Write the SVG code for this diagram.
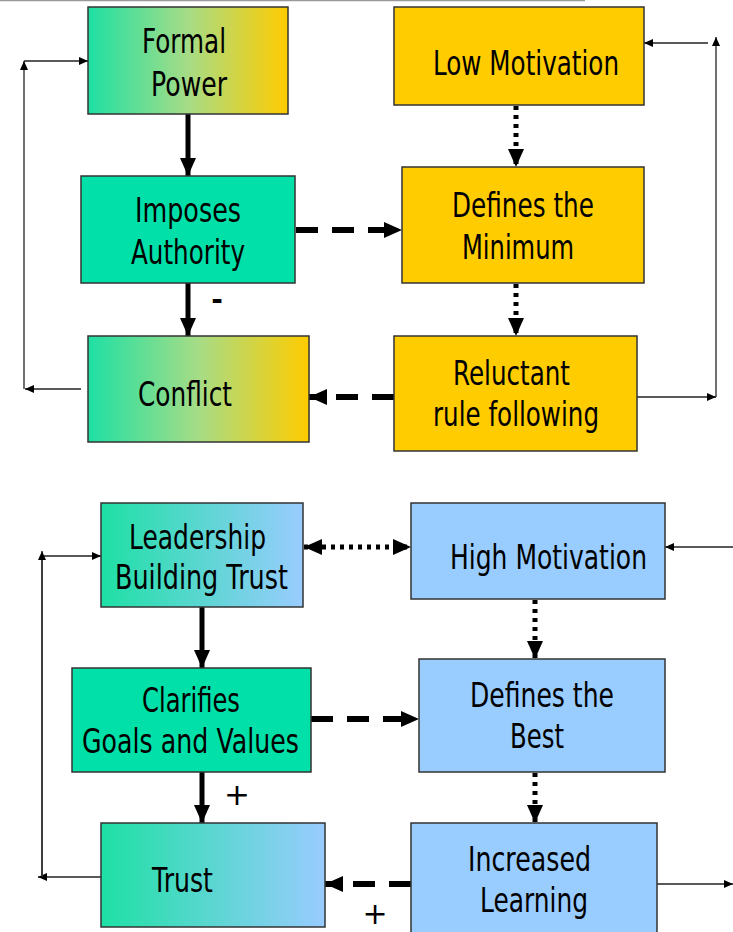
<svg xmlns="http://www.w3.org/2000/svg" width="733" height="932" viewBox="0 0 733 932">
  <defs>
    <linearGradient id="gy" x1="0" y1="0" x2="1" y2="0">
      <stop offset="0" stop-color="#1ee0a4"/>
      <stop offset="0.5" stop-color="#a6dc86"/>
      <stop offset="1" stop-color="#ffcc00"/>
    </linearGradient>
    <linearGradient id="gb" x1="0" y1="0" x2="1" y2="0">
      <stop offset="0" stop-color="#1ee0a4"/>
      <stop offset="1" stop-color="#99ccff"/>
    </linearGradient>
    <marker id="big" markerUnits="userSpaceOnUse" markerWidth="20" markerHeight="18" refX="18" refY="8" orient="auto">
      <path d="M0,0 L18,8 L0,16 Z" fill="#000"/>
    </marker>
    <marker id="bigs" markerUnits="userSpaceOnUse" markerWidth="20" markerHeight="18" refX="18" refY="8" orient="auto-start-reverse">
      <path d="M0,0 L18,8 L0,16 Z" fill="#000"/>
    </marker>
    <marker id="small" markerUnits="userSpaceOnUse" markerWidth="10" markerHeight="10" refX="9" refY="4" orient="auto">
      <path d="M0,0 L9,4 L0,8 Z" fill="#000"/>
    </marker>
  </defs>
  <style>
    .box { stroke: #333; stroke-width: 1.5; }
    .green { fill: #00e0a8; }
    .yellow { fill: #ffcc00; }
    .blue { fill: #99ccff; }
    .lbl { font-family: "DejaVu Sans", Verdana, sans-serif; font-size: 34px; fill: #000; }
    .sign { font-family: "DejaVu Sans", Verdana, sans-serif; fill: #000; }
    .solid { stroke: #000; stroke-width: 5; fill: none; }
    .dash { stroke: #000; stroke-width: 6; fill: none; stroke-dasharray: 22 14; }
    .dot { stroke: #000; stroke-width: 5; fill: none; stroke-dasharray: 4 5; }
    .thin { stroke: #222; stroke-width: 1.3; fill: none; }
  </style>

  <rect width="733" height="932" fill="#fff"/>
  <line x1="0" y1="0.5" x2="585" y2="0.5" stroke="#999" stroke-width="1.5"/>

  <!-- connectors -->
  <g id="connectors">
    <!-- upper loop -->
    <path class="solid" d="M188,114 V176" marker-end="url(#big)"/>
    <path class="solid" d="M188,283 V336" marker-end="url(#big)"/>
    <path class="dash" d="M296,230 H402" marker-end="url(#big)"/>
    <path class="dash" d="M394,397 H309" marker-end="url(#big)"/>
    <path class="dot" d="M516,106 V167" marker-end="url(#big)"/>
    <path class="dot" d="M516,284 V336" marker-end="url(#big)"/>
    <path class="thin" d="M81,389 H25" marker-end="url(#small)"/>
    <path class="thin" d="M24,389 V61" marker-end="url(#small)"/>
    <path class="thin" d="M24,61 H88" marker-end="url(#small)"/>
    <path class="thin" d="M637,397 H716" marker-end="url(#small)"/>
    <path class="thin" d="M716,397 V37" marker-end="url(#small)"/>
    <path class="thin" d="M708,43 H644" marker-end="url(#small)"/>

    <!-- lower loop -->
    <path class="solid" d="M202,607 V668" marker-end="url(#big)"/>
    <path class="solid" d="M202,772 V823" marker-end="url(#big)"/>
    <path class="dash" d="M311,719 H419" marker-end="url(#big)"/>
    <path class="dash" d="M411,884 H325" marker-end="url(#big)"/>
    <path class="dot" d="M304,547 H411" marker-start="url(#bigs)" marker-end="url(#bigs)"/>
    <path class="dot" d="M535,600 V659" marker-end="url(#big)"/>
    <path class="dot" d="M535,773 V823" marker-end="url(#big)"/>
    <path class="thin" d="M101,877 H38" marker-end="url(#small)"/>
    <path class="thin" d="M42,877 V556 H101" marker-end="url(#small)"/>
    <path class="thin" d="M42,877 V551" marker-end="url(#small)"/>
    <path class="thin" d="M733,547 H665" marker-end="url(#small)"/>
    <path class="thin" d="M657,884 H733" marker-end="url(#small)"/>

    <text class="sign" x="217" y="309" font-size="28" font-weight="bold" text-anchor="middle">-</text>
    <text class="sign" x="237" y="805" font-size="31" text-anchor="middle">+</text>
    <text class="sign" x="375" y="924" font-size="30" text-anchor="middle">+</text>
  </g>

  <!-- upper nodes -->
  <g id="formal-power">
    <rect class="box" x="88" y="7" width="200" height="107" fill="url(#gy)"/>
    <text class="lbl" x="142" y="53" textLength="84" lengthAdjust="spacingAndGlyphs">Formal</text>
    <text class="lbl" x="151" y="96" textLength="76" lengthAdjust="spacingAndGlyphs">Power</text>
  </g>
  <g id="imposes-authority">
    <rect class="box green" x="81" y="176" width="214" height="107"/>
    <text class="lbl" x="135" y="222" textLength="106" lengthAdjust="spacingAndGlyphs">Imposes</text>
    <text class="lbl" x="131" y="264" textLength="114" lengthAdjust="spacingAndGlyphs">Authority</text>
  </g>
  <g id="conflict">
    <rect class="box" x="88" y="336" width="221" height="106" fill="url(#gy)"/>
    <text class="lbl" x="138" y="406" textLength="94" lengthAdjust="spacingAndGlyphs">Conflict</text>
  </g>
  <g id="low-motivation">
    <rect class="box yellow" x="394" y="7" width="250" height="98"/>
    <text class="lbl" x="433" y="75" textLength="186" lengthAdjust="spacingAndGlyphs">Low Motivation</text>
  </g>
  <g id="defines-minimum">
    <rect class="box yellow" x="402" y="167" width="242" height="116"/>
    <text class="lbl" x="452" y="217" textLength="142" lengthAdjust="spacingAndGlyphs">Defines the</text>
    <text class="lbl" x="462" y="259" textLength="112" lengthAdjust="spacingAndGlyphs">Minimum</text>
  </g>
  <g id="reluctant-rule-following">
    <rect class="box yellow" x="394" y="336" width="243" height="115"/>
    <text class="lbl" x="453" y="385" textLength="117" lengthAdjust="spacingAndGlyphs">Reluctant</text>
    <text class="lbl" x="433" y="426" textLength="166" lengthAdjust="spacingAndGlyphs">rule following</text>
  </g>

  <!-- lower nodes -->
  <g id="leadership-building-trust">
    <rect class="box" x="101" y="503" width="202" height="104" fill="url(#gb)"/>
    <text class="lbl" x="129" y="549" textLength="137" lengthAdjust="spacingAndGlyphs">Leadership</text>
    <text class="lbl" x="115" y="589" textLength="173" lengthAdjust="spacingAndGlyphs">Building Trust</text>
  </g>
  <g id="clarifies-goals">
    <rect class="box green" x="72" y="668" width="239" height="104"/>
    <text class="lbl" x="142" y="712" textLength="98" lengthAdjust="spacingAndGlyphs">Clarifies</text>
    <text class="lbl" x="82" y="753" textLength="217" lengthAdjust="spacingAndGlyphs">Goals and Values</text>
  </g>
  <g id="trust">
    <rect class="box" x="101" y="823" width="224" height="104" fill="url(#gb)"/>
    <text class="lbl" x="152" y="892" textLength="61" lengthAdjust="spacingAndGlyphs">Trust</text>
  </g>
  <g id="high-motivation">
    <rect class="box blue" x="411" y="503" width="254" height="96"/>
    <text class="lbl" x="450" y="569" textLength="197" lengthAdjust="spacingAndGlyphs">High Motivation</text>
  </g>
  <g id="defines-best">
    <rect class="box blue" x="419" y="659" width="246" height="113"/>
    <text class="lbl" x="470" y="707" textLength="144" lengthAdjust="spacingAndGlyphs">Defines the</text>
    <text class="lbl" x="510" y="748" textLength="54" lengthAdjust="spacingAndGlyphs">Best</text>
  </g>
  <g id="increased-learning">
    <rect class="box blue" x="411" y="823" width="246" height="115"/>
    <text class="lbl" x="468" y="871" textLength="123" lengthAdjust="spacingAndGlyphs">Increased</text>
    <text class="lbl" x="480" y="912" textLength="108" lengthAdjust="spacingAndGlyphs">Learning</text>
  </g>
</svg>
